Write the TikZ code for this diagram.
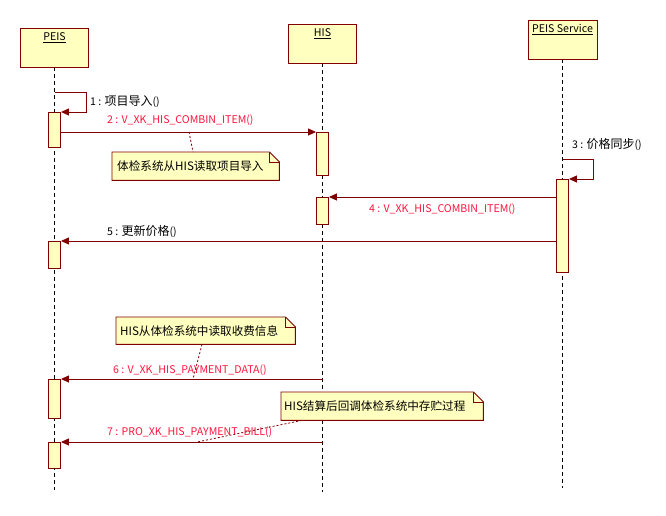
\documentclass[tikz,border=0pt]{standalone}
\usepackage{fontspec}
\setmainfont{Noto Sans CJK SC}
\usetikzlibrary{arrows.meta,backgrounds}
\definecolor{umlred}{RGB}{128,0,0}
\definecolor{umlfill}{RGB}{255,255,192}
\definecolor{msgred}{RGB}{255,20,60}
\newcommand{\zh}[1]{{\fontsize{12}{13}\selectfont #1}}
\tikzset{
  head/.style={draw=umlred, fill=umlfill, line width=0.9pt, inner sep=0pt},
  life/.style={black, line width=0.8pt, dash pattern=on 4pt off 3pt},
  act/.style={draw=umlred, fill=umlfill, line width=0.9pt, minimum width=12pt, inner sep=0pt, anchor=north},
  msg/.style={umlred, line width=0.9pt, -{Triangle[length=8pt,width=7pt]}},
  lbl/.style={anchor=west, inner sep=0pt, font=\fontsize{10.6}{13}\selectfont},
  redlbl/.style={lbl, text=msgred},
  note/.style={inner sep=0pt, anchor=north west, font=\fontsize{11.6}{13}\selectfont},
  notebox/.style={draw=umlred, fill=umlfill, line width=0.9pt},
  link/.style={umlred, line width=0.8pt, dash pattern=on 2pt off 2pt}
}
\begin{document}
\begin{tikzpicture}[x=1pt,y=-1pt]
\useasboundingbox (0,0) rectangle (666,516);
% heads
\node[head, minimum width=68pt, minimum height=39pt,
      label={[lbl, anchor=north, yshift=-5pt]north:\underline{PEIS}}] (peis) at (54.5,47.5) {};
\node[head, minimum width=68pt, minimum height=39pt,
      label={[lbl, anchor=north, yshift=-5pt]north:\underline{HIS}}] (his) at (322.5,43.5) {};
\node[head, minimum width=69pt, minimum height=39pt,
      label={[lbl, anchor=north, yshift=-5pt]north:\underline{PEIS Service}}] (svc) at (562.5,39.5) {};
\coordinate (peisEnd) at (54.5,490);
\coordinate (hisEnd) at (322.5,492);
\coordinate (svcEnd) at (562.5,488);
% lifelines
\begin{scope}[on background layer]
  \draw[life] (peis.south) -- (peisEnd);
  \draw[life] (his.south) -- (hisEnd);
  \draw[life] (svc.south) -- (svcEnd);
\end{scope}
% activations
\node[act, minimum height=35pt] (pa1) at (54.5,112) {};
\node[act, minimum height=27pt] (pa2) at (54.5,241) {};
\node[act, minimum height=39pt] (pa3) at (54.5,379) {};
\node[act, minimum height=26pt] (pa4) at (54.5,442) {};
\node[act, minimum height=43pt] (ha1) at (322.5,132) {};
\node[act, minimum height=27pt] (ha2) at (322.5,197) {};
\node[act, minimum height=93pt] (sa) at (562.5,179) {};
% messages
\coordinate (m1) at (54.5,92);
\draw[msg] (m1) -- ++(31.5,0) |- (pa1.north east);
\node[lbl] (l1) at (90,102) {1 : \zh{项目导入}()};
\draw[msg] (pa1.east |- ha1.north) -- (ha1.north west);
\node[redlbl] (l2) at (107,120) {2 : V\_XK\_HIS\_COMBIN\_ITEM()};
\coordinate (m3) at (562.5,159);
\draw[msg] (m3) -- ++(30.5,0) |- (sa.north east);
\node[lbl] (l3) at (572,144) {3 : \zh{价格同步}()};
\draw[msg] (sa.west |- ha2.north) -- (ha2.north east);
\node[redlbl] (l4) at (369,209) {4 : V\_XK\_HIS\_COMBIN\_ITEM()};
\draw[msg] (sa.west |- pa2.north) -- (pa2.north east);
\node[lbl] (l5) at (107,231) {5 : \zh{更新价格}()};
\coordinate (m6) at (322.5,379);
\draw[msg] (m6) -- (pa3.north east);
\node[redlbl] (l6) at (113,370) {6 : V\_XK\_HIS\_PAYMENT\_DATA()};
\coordinate (m7) at (322.5,442);
\draw[msg] (m7) -- (pa4.north east);
\node[redlbl] (l7) at (107,432) {7 : PRO\_XK\_HIS\_PAYMENT\_BILL()};
% notes
\node[note, minimum width=167pt, minimum height=28pt, text width=157pt, inner xsep=5pt] (n1) at (112,152) {体检系统从HIS读取项目导入};
\node[note, minimum width=179pt, minimum height=27pt, text width=171pt, inner xsep=4pt] (n2) at (116,317) {HIS从体检系统中读取收费信息};
\node[note, minimum width=202pt, minimum height=28pt, text width=196pt, inner xsep=3pt] (n3) at (281,392) {HIS结算后回调体检系统中存贮过程};
\begin{scope}[on background layer]
  \foreach \n in {n1,n2,n3}{
    \draw[notebox] (\n.north west) -- ([xshift=-10pt]\n.north east)
      -- ([yshift=-10pt]\n.north east) -- (\n.south east) -- (\n.south west) -- cycle;
    \draw[umlred, line width=0.8pt] ([xshift=-10pt]\n.north east)
      -- ([xshift=-10pt,yshift=-10pt]\n.north east) -- ([yshift=-10pt]\n.north east);
  }
\end{scope}
\coordinate (k1) at (189,132);
\draw[link] (k1) -- (193,0 |- n1.north);
\coordinate (k2) at (193,379);
\draw[link] (202,0 |- n2.south) -- (k2);
\coordinate (k3) at (197,442);
\draw[link] (302,0 |- n3.south) -- (k3);
\end{tikzpicture}
\end{document}
